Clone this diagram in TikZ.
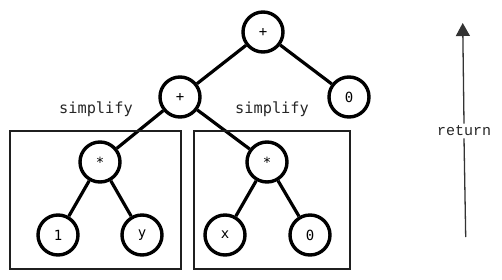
\documentclass[tikz,border=0pt]{standalone}
\usepackage{fontspec}
\setmonofont{DejaVu Sans Mono}
\newfontfamily\retfont{Liberation Mono}
\usetikzlibrary{arrows.meta}
\begin{document}
\begin{tikzpicture}[x=1pt,y=-1pt,
  tnode/.style={circle,draw,line width=3.4pt,minimum size=40pt,inner sep=0pt,
    font=\fontsize{14}{14}\selectfont\ttfamily},
  tedge/.style={line width=3.2pt},
  group/.style={draw=black!88,line width=1.3pt},
  lbl/.style={font=\fontsize{15.3}{15.3}\selectfont\ttfamily,text=black!85},
  retarrow/.style={draw=black!80,line width=1.3pt}]
\useasboundingbox (0,0) rectangle (502,279);
% expression tree
\node[tnode] (root) at (263,32) {+};
\node[tnode] (plus) at (180,97) {+};
\node[tnode] (zeroA) at (349,97) {0};
\node[tnode] (mulL) at (100,162) {*};
\node[tnode] (mulR) at (267,162) {*};
\node[tnode] (one) at (58,235) {1};
\node[tnode] (y) at (142,235) {y};
\node[tnode] (x) at (225,235) {x};
\node[tnode] (zeroB) at (310,235) {0};
\draw[tedge] (root) -- (plus);
\draw[tedge] (root) -- (zeroA);
\draw[tedge] (plus) -- (mulL);
\draw[tedge] (plus) -- (mulR);
\draw[tedge] (mulL) -- (one);
\draw[tedge] (mulL) -- (y);
\draw[tedge] (mulR) -- (x);
\draw[tedge] (mulR) -- (zeroB);
% subtrees being simplified
\draw[group] (10,131) rectangle (181,269);
\draw[group] (194,131) rectangle (350,269);
\node[lbl] (simpL) at (96,109) {simplify};
\node[lbl] (simpR) at (272,109) {simplify};
% return direction
\node[font=\fontsize{15}{15}\selectfont\retfont,text=black!85,inner sep=2pt] (ret) at (464,131) {return};
\coordinate (retBot) at (465.7,237);
\coordinate (retTop) at (462.7,23);
\draw[retarrow] (retBot) -- (ret.south);
\draw[retarrow,-{Triangle[length=13pt,width=14pt]}] (ret.north) -- (retTop);
\end{tikzpicture}
\end{document}
